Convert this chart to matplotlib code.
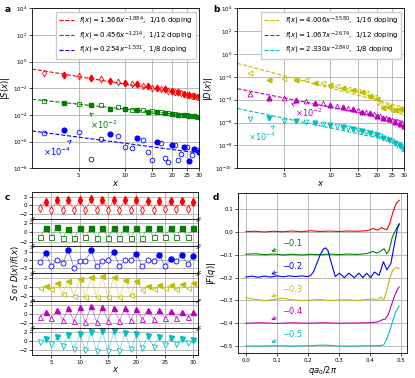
import matplotlib
matplotlib.use("Agg")

import matplotlib.pyplot as plt
import numpy as np

# ---- data -------------------------------------------------------------
x_sites = list(range(3, 31))

# S(x)/f(x) and D(x)/f(x)
ratio_S_16 = [-0.7, 0.8, -1.1, 1.2, -1.2, 1.2, -1.2, 1.3, -1.2, 1.4, -1.1, 1.3, -1.1, 1.25,
              -1.1, 1.25, -1.1, 1.15, -1.0, 1.1, -1.0, 1.0, -0.9, 1.0, -0.9, 0.9, -0.85, 0.8]
ratio_S_12 = [-1.0, 0.9, -1.0, 1.1, -1.2, 0.8, -1.2, 1.0, -1.0, 1.0, -1.1, 0.9, -1.1, 1.0,
              -1.1, 1.0, -1.1, 1.0, -1.1, 1.0, -1.0, 1.0, -1.0, 1.0, -1.0, 1.0, -0.9, 0.9]
ratio_S_8 = [-1.0, 2.6, -2.5, -0.03, -1.25, 3.4, -2.9, -0.5, -0.5, 3.4, -2.5, -0.4, -0.1, 2.7,
             -2.3, -0.2, -0.1, 2.2, -2.3, -0.2, -0.6, 1.9, -2.3, 0.2, -0.6, 1.8, -1.7, 1.2]
ratio_D_16 = [-0.3, 0.2, -0.5, 0.8, -1.5, 1.3, -2.0, 1.7, -2.2, 2.1, -2.3, 2.3, -2.3, 2.2,
              -2.3, 1.6, -1.8, 1.2, -0.6, 0.3, -0.5, 0.5, -0.3, 0.4, -0.4, 0.6, -0.3, 0.8]
ratio_D_12 = [-0.6, 0.5, -0.9, 1.0, -1.3, 1.3, -1.6, 1.5, -1.7, 1.8, -1.7, 1.6, -1.5, 1.4,
              -1.5, 1.4, -1.3, 1.1, -1.1, 0.9, -1.0, 0.9, -0.9, 0.7, -0.8, 0.5, -0.7, 0.4]
ratio_D_8 = [-0.2, 0.5, -0.6, 0.9, -1.1, 1.4, -1.7, 1.7, -1.9, 2.1, -2.1, 2.2, -2.2, 2.2,
             -2.1, 1.9, -1.8, 1.6, -1.5, 1.2, -1.2, 1.0, -0.9, 0.7, -0.6, 0.5, -0.3, 0.3]

# power-law fits from the legends, f(x) = A x^-p, and display shifts
fit_amp_S = [1.566, 0.456, 0.254]
fit_pow_S = [1.884, 1.214, 1.531]
fit_amp_D = [4.006, 1.067, 2.330]
fit_pow_D = [3.580, 2.674, 2.840]
shifts = [1.0, 1e-2, 1e-4]
doping = ["1/16", "1/12", "1/8"]

# |F(q)| curves, each offset by -0.1
q_red = [0, 0.03, 0.06, 0.09, 0.12, 0.15, 0.18, 0.21, 0.24, 0.27, 0.30, 0.33, 0.36, 0.39,
         0.40, 0.41, 0.425, 0.438, 0.455, 0.465, 0.475, 0.485, 0.495]
F_red = [0.002, 0.004, 0.001, 0.004, 0.002, 0.005, 0.002, 0.006, 0.003, 0.005, 0.003, 0.005,
         0.004, 0.006, 0.01, 0.016, 0.009, 0.02, 0.01, 0.04, 0.09, 0.125, 0.14]
q_green = [0, 0.03, 0.06, 0.09, 0.12, 0.15, 0.18, 0.21, 0.24, 0.27, 0.30, 0.33, 0.36, 0.39,
           0.41, 0.425, 0.446, 0.455, 0.463, 0.473, 0.484, 0.495]
F_green = [-0.097, -0.095, -0.099, -0.096, -0.1, -0.097, -0.1, -0.097, -0.099, -0.096, -0.099,
           -0.096, -0.098, -0.094, -0.085, -0.092, -0.073, -0.095, -0.078, -0.02, 0.01, 0.038]
q_blue = [0, 0.02, 0.04, 0.06, 0.08, 0.10, 0.12, 0.14, 0.16, 0.18, 0.20, 0.21, 0.22, 0.23,
          0.24, 0.25, 0.257, 0.265, 0.275, 0.289, 0.302, 0.318, 0.333, 0.35, 0.365, 0.378,
          0.39, 0.403, 0.415, 0.43, 0.444, 0.455, 0.468, 0.479, 0.489, 0.495]
F_blue = [-0.197, -0.193, -0.198, -0.193, -0.197, -0.192, -0.196, -0.192, -0.195, -0.192,
          -0.195, -0.19, -0.17, -0.135, -0.1, -0.075, -0.069, -0.08, -0.13, -0.195, -0.18,
          -0.2, -0.18, -0.2, -0.18, -0.2, -0.18, -0.2, -0.175, -0.19, -0.13, -0.165, -0.138,
          -0.057, 0.016, 0.034]
q_yellow = [0, 0.03, 0.06, 0.09, 0.12, 0.15, 0.18, 0.21, 0.24, 0.27, 0.30, 0.33, 0.36, 0.39,
            0.41, 0.425, 0.435, 0.445, 0.455, 0.465, 0.475, 0.485, 0.495]
F_yellow = [-0.288, -0.295, -0.3, -0.296, -0.29, -0.297, -0.3, -0.298, -0.296, -0.3, -0.298,
            -0.297, -0.3, -0.296, -0.293, -0.3, -0.285, -0.3, -0.255, -0.2, -0.165, -0.155,
            -0.16]
q_magenta = [0, 0.05, 0.10, 0.15, 0.20, 0.25, 0.30, 0.35, 0.40, 0.42, 0.43, 0.44, 0.45,
             0.46, 0.47, 0.48, 0.49, 0.495]
F_magenta = [-0.4, -0.398, -0.401, -0.398, -0.4, -0.398, -0.4, -0.399, -0.398, -0.395,
             -0.392, -0.385, -0.382, -0.36, -0.32, -0.28, -0.25, -0.24]
q_cyan = [0, 0.05, 0.10, 0.15, 0.20, 0.25, 0.30, 0.35, 0.40, 0.435, 0.445, 0.455, 0.465,
          0.475, 0.485, 0.495]
F_cyan = [-0.5, -0.5, -0.499, -0.5, -0.499, -0.496, -0.5, -0.5, -0.499, -0.498, -0.495,
          -0.47, -0.43, -0.385, -0.345, -0.325]
offset_labels = ["\u22120.1", "\u22120.2", "\u22120.3", "\u22120.4", "\u22120.5"]

# ---- style ------------------------------------------------------------
plt.rcParams.update({
    "font.size": 5,
    "axes.linewidth": 0.6,
    "xtick.labelsize": 4,
    "ytick.labelsize": 4,
    "xtick.major.size": 2,
    "ytick.major.size": 2,
    "xtick.major.width": 0.5,
    "ytick.major.width": 0.5,
    "xtick.major.pad": 1.5,
    "ytick.major.pad": 1.5,
    "grid.color": "#b0b0b0",
    "grid.linewidth": 0.6,
    "axes.labelsize": 6,
    "axes.labelpad": 1.5,
})

S_colors = ["r", "g", "b"]
D_colors = ["y", "m", "c"]
S_markers = ["d", "s", "o"]
D_markers = ["<", "^", "v"]
S_ratios = [ratio_S_16, ratio_S_12, ratio_S_8]
D_ratios = [ratio_D_16, ratio_D_12, ratio_D_8]

fig = plt.figure(figsize=(4.15, 3.78), dpi=100)

xs = np.array(x_sites)
x_fit = np.geomspace(2.5, 30, 60)


def power_panel(ax, amps, pows, ratios, colors, markers, name):
    for amp, p, r, col, mk, sh, dop in zip(amps, pows, ratios, colors, markers,
                                           shifts, doping):
        r = np.array(r)
        fx = amp * xs ** (-p) * sh
        ax.plot(x_fit, amp * x_fit ** (-p) * sh, "--", color=col, lw=0.8,
                label=rf"$f(x) = {amp:.3f}x^{{-{p:.3f}}}$,  {dop} doping")
        pos = r > 0
        ax.plot(xs[pos], np.abs(r[pos]) * fx[pos], mk, color=col, ms=3.4, ls="none")
        ax.plot(xs[~pos], np.abs(r[~pos]) * fx[~pos], mk, color=col, mfc="none",
                mew=0.6, ms=3.4, ls="none")
    ax.set_xscale("log")
    ax.set_yscale("log")
    ax.set_xlim(2.5, 30)
    ax.set_xticks([5, 10, 15, 20, 25, 30])
    ax.set_xticklabels(["5", "10", "15", "20", "25", "30"])
    ax.xaxis.set_minor_locator(plt.NullLocator())
    ax.yaxis.set_minor_locator(plt.NullLocator())
    ax.grid(True)
    ax.set_axisbelow(True)
    ax.set_xlabel(r"$x$", labelpad=0.5)
    ax.set_ylabel(name, labelpad=0.5)
    ax.legend(loc="upper right", fontsize=5, handlelength=2.2, framealpha=1,
              edgecolor="#cccccc", borderpad=0.4, labelspacing=0.35)


ax_a = fig.add_axes([0.0771, 0.5548, 0.4024, 0.4233])
power_panel(ax_a, fit_amp_S, fit_pow_S, S_ratios, S_colors, S_markers, r"$|S(x)|$")
ax_a.set_ylim(1e-8, 1e4)
ax_a.set_yticks([1e4, 1e2, 1e0, 1e-2, 1e-4, 1e-6, 1e-8])
ax_a.annotate(r"$\times10^{-2}$", xy=(0.331, 0.36), xytext=(0.43, 0.27),
              xycoords="axes fraction", textcoords="axes fraction", color="g",
              fontsize=6, ha="center", va="center",
              arrowprops=dict(arrowstyle="->", color="g", lw=0.6))
ax_a.annotate(r"$\times10^{-4}$", xy=(0.238, 0.177), xytext=(0.15, 0.104),
              xycoords="axes fraction", textcoords="axes fraction", color="b",
              fontsize=6, ha="center", va="center",
              arrowprops=dict(arrowstyle="->", color="b", lw=0.6))

ax_b = fig.add_axes([0.5718, 0.5548, 0.4024, 0.4233])
power_panel(ax_b, fit_amp_D, fit_pow_D, D_ratios, D_colors, D_markers, r"$|D(x)|$")
ax_b.set_ylim(1e-10, 1e4)
ax_b.set_yticks([1e4, 1e2, 1e0, 1e-2, 1e-4, 1e-6, 1e-8, 1e-10])
ax_b.annotate(r"$\times10^{-2}$", xy=(0.322, 0.406), xytext=(0.43, 0.345),
              xycoords="axes fraction", textcoords="axes fraction", color="m",
              fontsize=6, ha="center", va="center",
              arrowprops=dict(arrowstyle="->", color="m", lw=0.6))
ax_b.annotate(r"$\times10^{-4}$", xy=(0.236, 0.281), xytext=(0.15, 0.194),
              xycoords="axes fraction", textcoords="axes fraction", color="c",
              fontsize=6, ha="center", va="center",
              arrowprops=dict(arrowstyle="->", color="c", lw=0.6))

# ---- panel c: stacked ratio rows --------------------------------------
gs = fig.add_gridspec(6, 1, left=0.0771, right=0.478, top=0.493, bottom=0.061, hspace=0)
row_data = S_ratios + D_ratios
row_colors = S_colors + D_colors
row_markers = S_markers + D_markers
row_lims = [3.2, 2.75, 5.0, 3.0, 3.0, 3.0]
row_ticks = [[-2, 0, 2], [-2, 0, 2], [-3, 0, 3], [-2, 0, 2], [-2, 0, 2], [-2, 0, 2]]
rows = []
for i in range(6):
    ax = fig.add_subplot(gs[i])
    r = np.array(row_data[i])
    col = row_colors[i]
    mk = row_markers[i]
    ax.plot(xs, r, "-", color=col, lw=0.5, alpha=0.6)
    pos = r > 0
    ax.plot(xs[pos], r[pos], mk, color=col, ms=3.6, ls="none")
    ax.plot(xs[~pos], r[~pos], mk, color=col, mfc="white", mew=0.6, ms=3.6, ls="none")
    ax.set_ylim(-row_lims[i], row_lims[i])
    ax.set_yticks(row_ticks[i])
    ax.set_xlim(1.6, 30.9)
    ax.set_xticks([5, 10, 15, 20, 25, 30])
    ax.grid(True)
    ax.set_axisbelow(True)
    if i < 5:
        ax.tick_params(axis="x", labelbottom=False, length=0)
    # broken-axis marks
    kw = dict(marker=[(-1, -0.5), (1, 0.5)], markersize=3, linestyle="none",
              color="k", mec="k", mew=0.5, clip_on=False, transform=ax.transAxes)
    if i > 0:
        ax.plot([0, 1], [0.97, 0.97], **kw)
    if i < 5:
        ax.plot([0, 1], [0.03, 0.03], **kw)
    rows.append(ax)
rows[-1].set_xlabel(r"$x$", labelpad=0.5)
fig.text(0.035, 0.277, r"$S$ or $D(x)/f(x)$", rotation=90, ha="center", va="center",
         fontsize=6)

# ---- panel d: |F(q)| --------------------------------------------------
ax_d = fig.add_axes([0.5735, 0.0654, 0.407, 0.424])
curves = [(q_red, F_red, "r"), (q_green, F_green, "g"), (q_blue, F_blue, "b"),
          (q_yellow, F_yellow, "y"), (q_magenta, F_magenta, "m"), (q_cyan, F_cyan, "c")]
for q, F, col in curves:
    ax_d.plot(q, F, "-", color=col, lw=0.8)
for k, (lab, col) in enumerate(zip(offset_labels, ["g", "b", "y", "m", "c"])):
    off = -0.1 * (k + 1)
    ax_d.annotate(lab, xy=(0.074, off + 0.011), xytext=(0.149, off + 0.05),
                  color=col, fontsize=6, ha="center", va="center",
                  arrowprops=dict(arrowstyle="->", color=col, lw=0.6))
ax_d.set_xticks([0.0, 0.1, 0.2, 0.3, 0.4, 0.5])
ax_d.set_yticks([0.1, 0.0, -0.1, -0.2, -0.3, -0.4, -0.5])
ax_d.grid(True)
ax_d.set_axisbelow(True)
ax_d.set_xlabel(r"$qa_0/2\pi$", labelpad=0.5)
ax_d.set_ylabel(r"$|F(q)|$", labelpad=1)

for lab, xp, yp in [("a", 0.012, 0.975), ("b", 0.513, 0.975),
                    ("c", 0.012, 0.478), ("d", 0.513, 0.478)]:
    fig.text(xp, yp, lab, fontsize=6.5, fontweight="bold", ha="left", va="center")

fig.savefig("out.png", dpi=100)
